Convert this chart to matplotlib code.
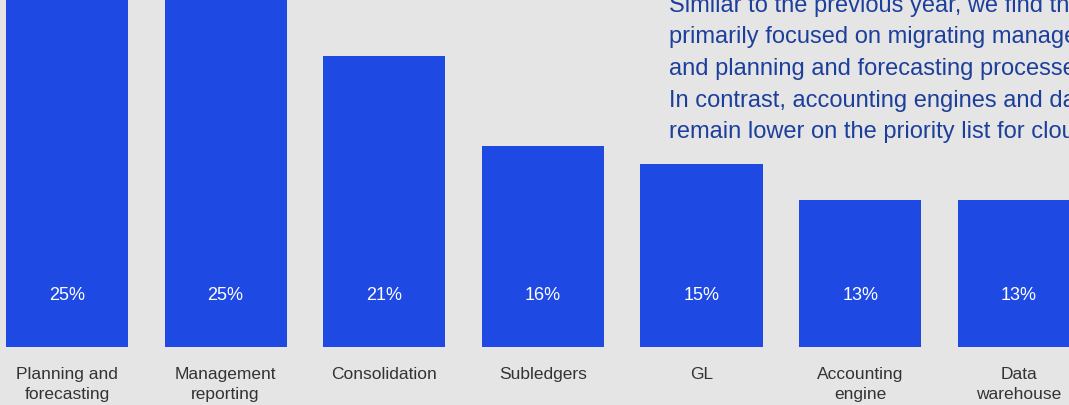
import matplotlib.pyplot as plt
import matplotlib.transforms as transforms

# --- data ---
categories = ["Planning and\nforecasting", "Management\nreporting", "Consolidation",
              "Subledgers", "GL", "Accounting\nengine", "Data\nwarehouse"]
shares = [25, 25, 21, 16, 15, 13, 13]
value_labels = ["25%", "25%", "21%", "16%", "15%", "13%", "13%"]

note_lines = [
    "Similar to the previous year, we find that organizations are",
    "primarily focused on migrating management reporting, consolidation",
    "and planning and forecasting processes to the cloud.",
    "In contrast, accounting engines and data warehouses",
    "remain lower on the priority list for cloud migration.",
]

BG = "#e5e5e5"
BAR = "#1f49e3"
NOTE = "#1d3f9c"
LABEL = "#333333"

plt.rcParams['font.family'] = ['Liberation Sans', 'DejaVu Sans']

W, H = 1069, 405
fig = plt.figure(figsize=(W / 100, H / 100), dpi=100, facecolor=BG)
ax = fig.add_axes([0, (H - 347) / H, 1, 347 / H])
ax.set_facecolor(BG)

x = list(range(len(categories)))
ax.bar(x, shares, width=0.77, color=BAR, zorder=2)

# baseline of the value axis does not start at zero
ax.set_ylim(4.84, 24.14)
ax.set_xlim(-0.422, 6.316)
ax.axis('off')

trans = transforms.blended_transform_factory(ax.transData, ax.transAxes)
for xi, lab, cat in zip(x, value_labels, categories):
    ax.text(xi, 0.147, lab, transform=trans, ha='center', va='center',
            color='white', fontsize=13)
    ax.text(xi, -0.058, cat, transform=trans, ha='center', va='top',
            color=LABEL, fontsize=12.5, linespacing=1.38)

# commentary block in the upper right
for i, line in enumerate(note_lines):
    fig.text(669 / W, 1 - (6 + 31.5 * i) / H, line, ha='left', va='center',
             color=NOTE, fontsize=17)

fig.savefig("out.png", dpi=100, facecolor=BG)
